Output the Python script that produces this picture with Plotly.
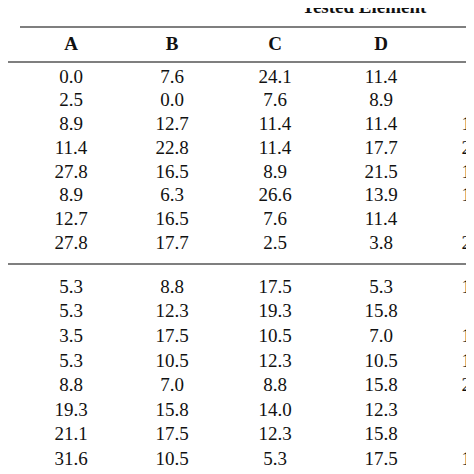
import plotly.graph_objects as go

columns = ["A", "B", "C", "D", "E"]
group1 = {
    "A": ["0.0", "2.5", "8.9", "11.4", "27.8", "8.9", "12.7", "27.8"],
    "B": ["7.6", "0.0", "12.7", "22.8", "16.5", "6.3", "16.5", "17.7"],
    "C": ["24.1", "7.6", "11.4", "11.4", "8.9", "26.6", "7.6", "2.5"],
    "D": ["11.4", "8.9", "11.4", "17.7", "21.5", "13.9", "11.4", "3.8"],
    "E": ["3.8", "5.1", "12.7", "24.1", "13.9", "10.1", "7.6", "22.8"],
}
group2 = {
    "A": ["5.3", "5.3", "3.5", "5.3", "8.8", "19.3", "21.1", "31.6"],
    "B": ["8.8", "12.3", "17.5", "10.5", "7.0", "15.8", "17.5", "10.5"],
    "C": ["17.5", "19.3", "10.5", "12.3", "8.8", "14.0", "12.3", "5.3"],
    "D": ["5.3", "15.8", "7.0", "10.5", "15.8", "12.3", "15.8", "17.5"],
    "E": ["12.3", "7.0", "17.5", "15.8", "21.1", "3.5", "7.0", "15.8"],
}
title_text = "Tested Element"

col_x = [71, 172, 275, 381, 478]
rows1_y = [78 + 23.7 * i for i in range(8)]
rows2_y = [288 + 24.6 * i for i in range(8)]
font = dict(family="Liberation Serif", size=19, color="#111")

fig = go.Figure()
for cx, c in zip(col_x, columns):
    fig.add_trace(go.Scatter(x=[cx] * 8, y=rows1_y, text=group1[c], mode="text",
                             textfont=font, textposition="middle center", cliponaxis=True))
    fig.add_trace(go.Scatter(x=[cx] * 8, y=rows2_y, text=group2[c], mode="text",
                             textfont=font, textposition="middle center", cliponaxis=True))
fig.add_trace(go.Scatter(x=col_x, y=[45] * 5, text=columns, mode="text",
                         textfont=font, texttemplate="<b>%{text}</b>", cliponaxis=True))
fig.add_trace(go.Scatter(x=[302], y=[8], text=[title_text], mode="text",
                         texttemplate="<b>%{text}</b>", textposition="middle right",
                         textfont=font, cliponaxis=True))

lc = dict(color="#555", width=1.5)
for x0, x1, y in [(20, 490, 27), (0, 3, 32), (0, 490, 62), (0, 490, 264)]:
    fig.add_shape(type="line", x0=x0, x1=x1, y0=y, y1=y, xref="x", yref="y", line=lc)

fig.update_layout(width=474, height=474, margin=dict(l=0, r=0, t=0, b=0),
                  showlegend=False, plot_bgcolor="white", paper_bgcolor="white",
                  xaxis=dict(range=[8, 482], visible=False, fixedrange=True),
                  yaxis=dict(range=[482, 8], visible=False, fixedrange=True))
fig.write_html("out.html")
